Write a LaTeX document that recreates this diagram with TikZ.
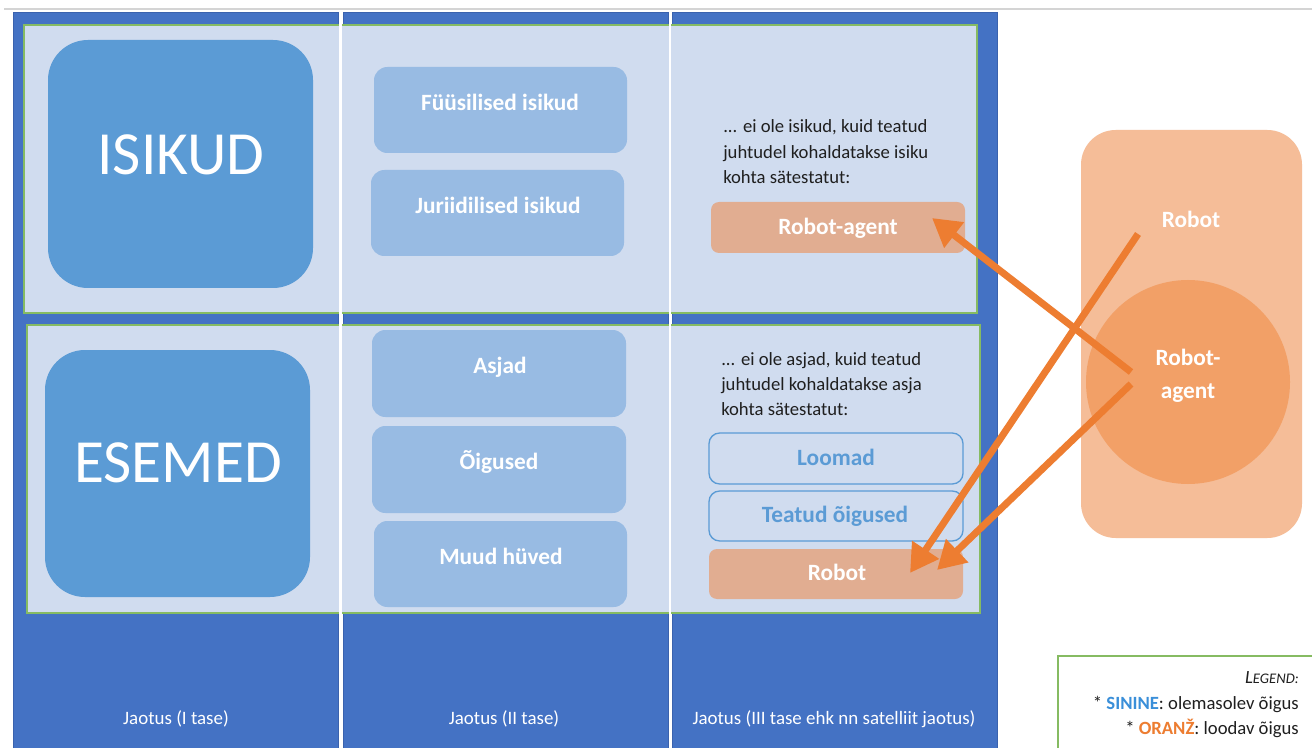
\documentclass[tikz,border=0pt]{standalone}
\usepackage{fontspec}
\setmainfont{Carlito}
\usetikzlibrary{arrows.meta,fit}
\definecolor{colblue}{HTML}{4472C4}
\definecolor{coledge}{HTML}{3A62AE}
\definecolor{panelfill}{HTML}{D0DCEF}
\definecolor{panelgreen}{HTML}{86BB62}
\definecolor{bigblue}{HTML}{5B9BD5}
\definecolor{smallblue}{HTML}{98BBE3}
\definecolor{peach}{HTML}{E1AD91}
\definecolor{rightrect}{HTML}{F5BD98}
\definecolor{circfill}{HTML}{F2A067}
\definecolor{arrorange}{HTML}{ED7D31}
\definecolor{legblue}{HTML}{3A8FD9}
\definecolor{textdark}{HTML}{1F1F1F}
\definecolor{toplinegray}{HTML}{D4D4D4}
\tikzset{
  column/.style={fill=colblue, draw=coledge, line width=0.6pt, inner sep=0pt},
  panel/.style={fill=panelfill, draw=panelgreen, line width=0.8pt, inner sep=0pt},
  bigbox/.style={fill=bigblue, rounded corners=30pt, inner sep=0pt},
  smallbox/.style={fill=smallblue, rounded corners=10pt, inner sep=0pt},
  peachbox/.style={fill=peach, rounded corners=6pt, inner sep=0pt},
  outlinebox/.style={draw=bigblue, line width=1pt, rounded corners=8pt, inner sep=0pt},
  bigtxt/.style={font=\fontsize{46}{50}\selectfont, text=white, inner sep=0pt, text height=29.6pt, text depth=0pt},
  boldtxt/.style={font=\fontsize{17.5}{20}\selectfont\bfseries, text=white, inner sep=0pt, text height=11.3pt, text depth=0pt},
  smalltxt/.style={font=\fontsize{14}{16}\selectfont, text=textdark, inner sep=0pt, anchor=base west},
  bottomtxt/.style={font=\fontsize{14.2}{16}\selectfont, text=white, inner sep=0pt, anchor=base},
  legtxt/.style={font=\fontsize{14}{16}\selectfont, text=textdark, inner sep=0pt, anchor=base east},
  arr/.style={draw=arrorange, line width=5.25pt, -{Triangle[length=21pt,width=23pt]}},
}
\begin{document}
\begin{tikzpicture}[x=0.75pt,y=-0.75pt]
\useasboundingbox (0,0) rectangle (1312,748);
\fill[white] (0,0) rectangle (1312,748);
\coordinate (tl) at (4,9);
\coordinate (tr) at (1312,9);
\draw[toplinegray, line width=1.6pt] (tl) -- (tr);

% columns
\node[column, fit={(13,12) (338,750)}] (c1) {};
\node[column, fit={(343,12) (668,750)}] (c2) {};
\node[column, fit={(672,12) (997,750)}] (c3) {};

% panels
\node[panel, fit={(24,25) (977,313)}] (p1) {};
\node[panel, fit={(27,325) (980,613)}] (p2) {};

% white separators visible through panels
\coordinate (s1t) at (340.5,12);
\coordinate (s1b) at (340.5,748);
\coordinate (s2t) at (670,12);
\coordinate (s2b) at (670,748);
\draw[white, line width=2.2pt] (s1t) -- (s1b);
\draw[white, line width=2.2pt] (s2t) -- (s2b);

% level I
\node[bigbox, fit={(48,40) (313,288)}] (isikud) {};
\node[bigtxt] (isikudT) at (181,155) {ISIKUD};
\node[bigbox, fit={(45,350) (310,597)}] (esemed) {};
\node[bigtxt] (esemedT) at (178,463) {ESEMED};

% level II
\node[smallbox, fit={(374,67) (627,153)}] (fyys) {};
\node[boldtxt] (fyysT) at (500,103) {Füüsilised isikud};
\node[smallbox, fit={(371,170) (624,256)}] (jur) {};
\node[boldtxt] (jurT) at (498,206) {Juriidilised isikud};
\node[smallbox, fit={(372,330) (626,417)}] (asjad) {};
\node[boldtxt] (asjadT) at (500,366) {Asjad};
\node[smallbox, fit={(372,426) (626,513)}] (oig) {};
\node[boldtxt] (oigT) at (499,462) {Õigused};
\node[smallbox, fit={(374,521) (627,607)}] (muud) {};
\node[boldtxt] (muudT) at (501,557) {Muud hüved};

% level III
\node[smalltxt] (u1) at (723,133) {... ei ole isikud, kuid teatud};
\node[smalltxt] (u2) at (723,158.5) {juhtudel kohaldatakse isiku};
\node[smalltxt] (u3) at (723,184) {kohta sätestatut:};
\node[peachbox, fit={(711,202) (965,253)}] (ra) {};
\node[boldtxt] (raT) at (838,227) {Robot-agent};

\node[smalltxt] (l1) at (721,365) {... ei ole asjad, kuid teatud};
\node[smalltxt] (l2) at (721,390) {juhtudel kohaldatakse asja};
\node[smalltxt] (l3) at (721,415) {kohta sätestatut:};
\node[outlinebox, fit={(709,433) (963,484)}] (loom) {};
\node[boldtxt, text=bigblue] (loomT) at (836,458) {Loomad};
\node[outlinebox, fit={(709,491) (963,541)}] (teat) {};
\node[boldtxt, text=bigblue] (teatT) at (835,515) {Teatud õigused};
\node[peachbox, fit={(709,549) (963,599)}] (rob) {};
\node[boldtxt] (robT) at (837,573) {Robot};

% bottom labels
\node[bottomtxt] (b1) at (176,724) {Jaotus (I tase)};
\node[bottomtxt] (b2) at (504,724) {Jaotus (II tase)};
\node[bottomtxt] (b3) at (834,724) {Jaotus (III tase ehk nn satelliit jaotus)};

% right group
\node[fill=rightrect, rounded corners=26pt, inner sep=0pt, fit={(1081,130) (1302,538)}] (rgroup) {};
\node[circle, fill=circfill, inner sep=0pt, minimum size=153pt] (circ) at (1188,382) {};
\node[boldtxt] (rgT) at (1191,220) {Robot};
\node[boldtxt] (rc1) at (1188,358) {Robot-};
\node[boldtxt] (rc2) at (1188,391) {agent};

% arrows
\coordinate (a1s) at (1138,234);
\coordinate (a1e) at (910,573);
\coordinate (a2s) at (1131,372);
\coordinate (a2e) at (932,218);
\coordinate (a3s) at (1131,384);
\coordinate (a3e) at (937,570);
\draw[arr] (a1s) -- (a1e);
\draw[arr] (a2s) -- (a2e);
\draw[arr] (a3s) -- (a3e);

% legend
\node[draw=panelgreen, line width=0.8pt, inner sep=0pt, fit={(1058,656) (1318,760)}] (legend) {};
\node[legtxt] (leg1) at (1299,683) {\itshape L{\fontsize{11}{13}\selectfont EGEND:}};
\node[legtxt] (leg2) at (1299,709) {* \textbf{\textcolor{legblue}{SININE}}: olemasolev õigus};
\node[legtxt] (leg3) at (1299,734) {* \textbf{\textcolor{arrorange}{ORANŽ}}: loodav õigus};
\end{tikzpicture}
\end{document}
